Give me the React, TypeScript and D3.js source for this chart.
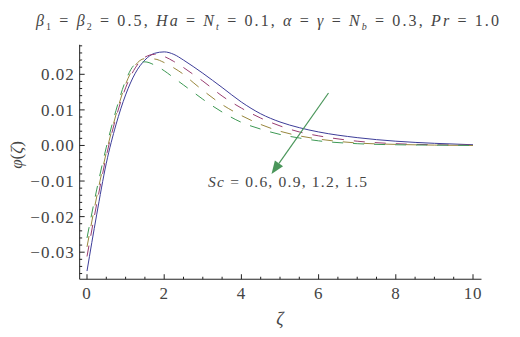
import React from "react";
import * as d3 from "d3";

const zeta = [0, 0.25, 0.5, 0.75, 1, 1.25, 1.5, 1.75, 2, 2.25, 2.5, 2.75, 3, 3.5, 4, 4.5, 5, 5.5, 6, 7, 8, 9, 10];
const phiSc06 = [-0.0353, -0.0195, -0.005, 0.0058, 0.0142, 0.0203, 0.024, 0.0259, 0.0263, 0.0256, 0.024, 0.0222, 0.0203, 0.0163, 0.0122, 0.0089, 0.0066, 0.005, 0.0038, 0.0022, 0.0012, 0.0006, 0.0002];
const phiSc09 = [-0.0312, -0.0165, -0.003, 0.0078, 0.0162, 0.0218, 0.0248, 0.0256, 0.025, 0.0236, 0.0219, 0.02, 0.0181, 0.0139, 0.0105, 0.0077, 0.0055, 0.0038, 0.0027, 0.0012, 0.0005, 0.0002, 0.0001];
const phiSc12 = [-0.0285, -0.0145, -0.002, 0.0086, 0.0172, 0.0225, 0.0244, 0.0243, 0.0233, 0.0218, 0.02, 0.0177, 0.0155, 0.0115, 0.0084, 0.0059, 0.004, 0.0027, 0.0018, 0.0007, 0.0003, 0.0001, 0];
const phiSc15 = [-0.026, -0.0125, -0.0005, 0.0098, 0.0182, 0.0228, 0.0235, 0.0226, 0.021, 0.019, 0.017, 0.015, 0.013, 0.0094, 0.0065, 0.0046, 0.0031, 0.0021, 0.0013, 0.0005, 0.0002, 0.0001, 0];

const seriesValues = [phiSc06, phiSc09, phiSc12, phiSc15];
const seriesColors = ["rgb(61,61,153)", "rgb(153,61,113)", "rgb(153,135,61)", "rgb(61,153,84)"];
const seriesDash = [null, "11 10", "11 10", "11 10"];

const xTicks = [0, 2, 4, 6, 8, 10];
const yTicks = [-0.03, -0.02, -0.01, 0.0, 0.01, 0.02];

const FONT = "Liberation Serif, DejaVu Serif, Times, serif";

export default function App() {
  const x = d3.scaleLinear().domain([0, 10]).range([87, 473]);
  const y = d3.scaleLinear().domain([-0.03, 0.02]).range([252.2, 74.3]);
  const xMin = -0.19, xMax = 10.22;
  const yMin = -0.0376, yMax = 0.0283;

  const line = d3
    .line<number>()
    .x((_, i) => x(zeta[i]))
    .y((d) => y(d))
    .curve(d3.curveMonotoneX);

  const xMinor = d3.range(0, 10.01, 0.5).filter((v) => !xTicks.some((t) => Math.abs(t - v) < 1e-9));
  const yMinor = d3.range(-36, 29, 2).map((v) => v / 1000).filter((v) => !yTicks.some((t) => Math.abs(t - v) < 1e-9));

  const axisColor = "#222";
  const labelColor = "#444";
  const fmt = (v: number) => (v < 0 ? "\u2212" : "") + Math.abs(v).toFixed(2);

  const ax0 = x(xMin), ax1 = x(xMax);
  const ay0 = y(yMin), ay1 = y(yMax);

  const arrowStart: [number, number] = [328.5, 93];
  const arrowEnd: [number, number] = [271.5, 174];
  const ang = Math.atan2(arrowEnd[1] - arrowStart[1], arrowEnd[0] - arrowStart[0]);
  const headLen = 13, headW = 5;
  const bx = arrowEnd[0] - headLen * Math.cos(ang);
  const by = arrowEnd[1] - headLen * Math.sin(ang);
  const head = [
    [arrowEnd[0], arrowEnd[1]],
    [bx + headW * Math.sin(ang), by - headW * Math.cos(ang)],
    [bx - headW * Math.sin(ang), by + headW * Math.cos(ang)],
  ];

  const tf = { fontFamily: FONT };

  return (
    <svg width={520} height={337} style={{ position: "absolute", left: 0, top: 0, background: "#fff", fontFamily: FONT }}>
      <rect width={520} height={337} fill="#fff" />
      <text x={36} y={26} style={tf} fontSize={16} fill={labelColor} textLength={463} lengthAdjust="spacing">
        <tspan fontStyle="italic">β</tspan>
        <tspan fontSize={10} dy={4}>1</tspan>
        <tspan dy={-4}> = </tspan>
        <tspan fontStyle="italic">β</tspan>
        <tspan fontSize={10} dy={4}>2</tspan>
        <tspan dy={-4}> = 0.5,  </tspan>
        <tspan fontStyle="italic">Ha</tspan>
        <tspan> = </tspan>
        <tspan fontStyle="italic">N</tspan>
        <tspan fontSize={10} fontStyle="italic" dy={4}>t</tspan>
        <tspan dy={-4}> = 0.1, </tspan>
        <tspan fontStyle="italic">α</tspan>
        <tspan> = </tspan>
        <tspan fontStyle="italic">γ</tspan>
        <tspan> = </tspan>
        <tspan fontStyle="italic">N</tspan>
        <tspan fontSize={10} fontStyle="italic" dy={4}>b</tspan>
        <tspan dy={-4}> = 0.3,  </tspan>
        <tspan fontStyle="italic">Pr</tspan>
        <tspan> = 1.0</tspan>
      </text>

      {seriesValues.map((vals, i) => (
        <path
          key={i}
          d={line(vals) || ""}
          fill="none"
          stroke={seriesColors[i]}
          strokeWidth={1}
          strokeDasharray={seriesDash[i] || undefined}
        />
      ))}

      <line x1={ax0} x2={ax1} y1={ay0} y2={ay0} stroke={axisColor} strokeWidth={1} />
      <line x1={ax0} x2={ax0} y1={ay0} y2={ay1} stroke={axisColor} strokeWidth={1} />
      {xTicks.map((t) => (
        <g key={"xt" + t}>
          <line x1={x(t)} x2={x(t)} y1={ay0} y2={ay0 - 5} stroke={axisColor} />
          <text x={x(t)} y={ay0 + 20} textAnchor="middle" style={tf} fontSize={17} letterSpacing={0.8} fill={labelColor}>
            {t}
          </text>
        </g>
      ))}
      {xMinor.map((t) => (
        <line key={"xm" + t} x1={x(t)} x2={x(t)} y1={ay0} y2={ay0 - 2.5} stroke={axisColor} />
      ))}
      {yTicks.map((t) => (
        <g key={"yt" + t}>
          <line x1={ax0} x2={ax0 + 5} y1={y(t)} y2={y(t)} stroke={axisColor} />
          <text x={ax0 - 5} y={y(t)} dy="0.35em" textAnchor="end" style={tf} fontSize={17} letterSpacing={1} fill={labelColor}>
            {fmt(t)}
          </text>
        </g>
      ))}
      {yMinor.map((t) => (
        <line key={"ym" + t} x1={ax0} x2={ax0 + 2.5} y1={y(t)} y2={y(t)} stroke={axisColor} />
      ))}

      <text x={280} y={325} textAnchor="middle" style={tf} fontSize={18} fontStyle="italic" fill={labelColor}>
        ζ
      </text>
      <text transform="translate(22,155) rotate(-90)" textAnchor="middle" style={tf} fontSize={17} fill={labelColor}>
        <tspan fontStyle="italic">φ</tspan>
        <tspan>(</tspan>
        <tspan fontStyle="italic">ζ</tspan>
        <tspan>)</tspan>
      </text>

      <line x1={arrowStart[0]} y1={arrowStart[1]} x2={bx} y2={by} stroke="rgb(74,150,90)" strokeWidth={1.2} />
      <polygon points={head.map((p) => p.join(",")).join(" ")} fill="rgb(74,150,90)" />
      <text x={208} y={187} style={tf} fontSize={15.5} fill={labelColor} textLength={159} lengthAdjust="spacing">
        <tspan fontStyle="italic">Sc</tspan>
        <tspan> = 0.6, 0.9, 1.2, 1.5</tspan>
      </text>
    </svg>
  );
}
